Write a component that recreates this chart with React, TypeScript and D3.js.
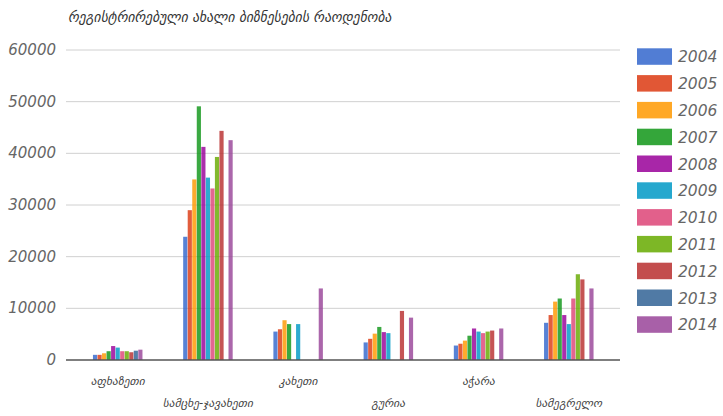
import React from "react";
import * as d3 from "d3";

const TITLE = "რეგისტრირებული ახალი ბიზნესების რაოდენობა";
const categories = ["აფხაზეთი", "სამცხე-ჯავახეთი", "კახეთი", "გურია", "აჭარა", "სამეგრელო"];
const years = ["2004", "2005", "2006", "2007", "2008", "2009", "2010", "2011", "2012", "2013", "2014"];
// values[category][year]
const v_afkhazeti = [1000, 1000, 1300, 1700, 2700, 2400, 1700, 1700, 1500, 1800, 2000];
const v_samtskhe = [23850, 29000, 34950, 49100, 41250, 35300, 33200, 39300, 44350, 0, 42550];
const v_kakheti = [5500, 5950, 7700, 6950, 0, 6950, 0, 0, 0, 0, 13850];
const v_guria = [3400, 4100, 5100, 6400, 5400, 5200, 0, 0, 9500, 0, 8200];
const v_achara = [2800, 3150, 3750, 4700, 6100, 5500, 5200, 5500, 5700, 0, 6100];
const v_samegrelo = [7200, 8700, 11300, 11900, 8700, 6950, 11900, 16600, 15600, 0, 13850];
const seriesByCategory = [v_afkhazeti, v_samtskhe, v_kakheti, v_guria, v_achara, v_samegrelo];
const yTicks = [0, 10000, 20000, 30000, 40000, 50000, 60000];
const colors = ["#3366cc", "#dc3912", "#ff9900", "#109618", "#990099", "#0099c6", "#dd4477", "#66aa00", "#b82e2e", "#316395", "#994499"];

export default function App() {
  const W = 723, H = 416;
  const plotLeft = 66, plotRight = 620;
  const y = d3.scaleLinear().domain([0, 60000]).range([360, 50]);
  const x0 = d3.scaleBand<string>().domain(categories).range([72.6, 613.9]).padding(0);
  const bw = x0.bandwidth();
  const groupW = 49.5;
  const x1 = d3.scaleBand<string>().domain(years).range([(bw - groupW) / 2, (bw + groupW) / 2]).paddingInner(0.08);
  const color = d3.scaleOrdinal<string, string>().domain(years).range(colors);
  const font = "'DejaVu Sans', sans-serif";

  return (
    <svg width={W} height={H} style={{ position: "absolute", left: 0, top: 0, background: "#fff" }}>
      <rect x={0} y={0} width={W} height={H} fill="#fff" />
      <text x={68} y={22} fontFamily={font} fontStyle="italic" fontSize={13.6} fill="#333">{TITLE}</text>
      {yTicks.map((t) => (
        <g key={t}>
          {t !== 0 && <line x1={plotLeft} x2={plotRight} y1={y(t)} y2={y(t)} stroke="#d0d0d0" strokeWidth={1} />}
          <text x={56} y={y(t) + 5} textAnchor="end" fontFamily={font} fontStyle="italic" fontSize={15} fill="#666">{t}</text>
        </g>
      ))}
      {categories.map((c, ci) => (
        <g key={c} transform={`translate(${x0(c)},0)`}>
          {years.map((yr, yi) => {
            const v = seriesByCategory[ci][yi];
            if (!v) return null;
            return (
              <rect key={yr} x={x1(yr)} y={y(v)} width={x1.bandwidth()} height={y(0) - y(v)} fill={color(yr)} opacity={0.82} />
            );
          })}
        </g>
      ))}
      <line x1={plotLeft} x2={plotRight} y1={y(0)} y2={y(0)} stroke="#555" strokeWidth={1.5} />
      {categories.map((c, ci) => (
        <text key={c} x={(x0(c) as number) + bw / 2} y={ci % 2 === 0 ? 385 : 407} textAnchor="middle" fontFamily={font} fontStyle="italic" fontSize={11.5} fill="#444">{c}</text>
      ))}
      {years.map((yr, i) => {
        const ly = 48.3 + i * 26.8;
        return (
          <g key={yr}>
            <rect x={637} y={ly} width={35} height={16.5} fill={color(yr)} opacity={0.85} />
            <text x={678} y={ly + 14} fontFamily={font} fontStyle="italic" fontSize={15.5} fill="#666">{yr}</text>
          </g>
        );
      })}
    </svg>
  );
}
